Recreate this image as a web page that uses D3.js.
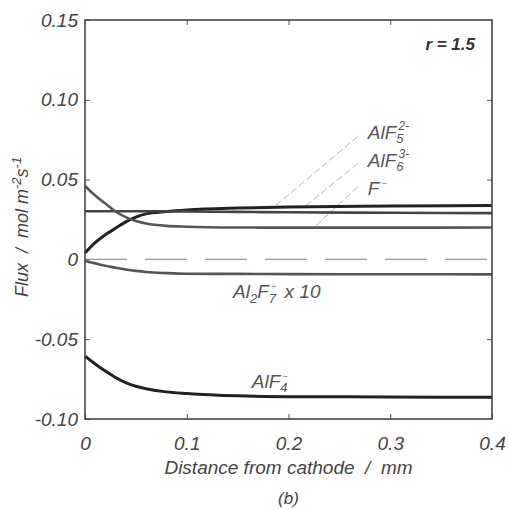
<!DOCTYPE html>
<html>
<head>
<meta charset="utf-8">
<script src="https://cdn.jsdelivr.net/npm/d3@7"></script>
<style>
  body { margin: 0; background: #fff; }
  text { font-family: "Liberation Sans", Arial, sans-serif; font-style: italic; white-space: pre; }
</style>
</head>
<body>
<script>
const WIDTH = 509, HEIGHT = 509;
const LEFT = 85, RIGHT = 492, TOP = 20, BOTTOM = 419;

// distance from cathode (mm)
const distance = [0, 0.01, 0.02, 0.03, 0.04, 0.05, 0.06, 0.08, 0.1, 0.15, 0.2, 0.3, 0.4];
// flux, mol m-2 s-1
const fluxAlF5 = [0.004, 0.0105, 0.0155, 0.0195, 0.0235, 0.0265, 0.0285, 0.0300, 0.0310, 0.0322, 0.0328, 0.0334, 0.0337];
const fluxAlF6 = [0.0302, 0.0302, 0.0302, 0.0302, 0.0302, 0.0302, 0.0302, 0.0301, 0.0300, 0.0298, 0.0295, 0.0292, 0.0290];
const fluxF = [0.046, 0.040, 0.035, 0.030, 0.0265, 0.024, 0.0225, 0.021, 0.0205, 0.0200, 0.0199, 0.0199, 0.0200];
const fluxAl2F7x10 = [-0.001, -0.0025, -0.004, -0.0052, -0.0063, -0.0072, -0.0079, -0.0086, -0.0090, -0.0091, -0.0092, -0.0093, -0.0094];
const fluxAlF4 = [-0.0606, -0.0655, -0.070, -0.074, -0.0772, -0.0795, -0.081, -0.083, -0.084, -0.0855, -0.086, -0.0862, -0.0864];

const xTicks = [0, 0.1, 0.2, 0.3, 0.4];
const yTicks = [-0.10, -0.05, 0, 0.05, 0.10, 0.15];
const yTickLabels = ["-0.10", "-0.05", "0", "0.05", "0.10", "0.15"];

const series = [
  {name: "AlF5", values: fluxAlF5, color: "#222", width: 3},
  {name: "AlF6", values: fluxAlF6, color: "#444", width: 2.6},
  {name: "F", values: fluxF, color: "#555", width: 2.6},
  {name: "Al2F7", values: fluxAl2F7x10, color: "#555", width: 2.6},
  {name: "AlF4", values: fluxAlF4, color: "#222", width: 3}
];

// leader lines: [label point, curve point] in data coords
const leaders = [
  [[0.268, 0.077], [0.187, 0.0335]],
  [[0.268, 0.060], [0.215, 0.0325]],
  [[0.268, 0.0455], [0.226, 0.0205]]
];

const x = d3.scaleLinear().domain([0, 0.4]).range([LEFT, RIGHT]);
const y = d3.scaleLinear().domain([-0.10, 0.15]).range([BOTTOM, TOP]);

const svg = d3.select("body").append("svg")
  .attr("width", WIDTH).attr("height", HEIGHT);

// zero dashed line
svg.append("line")
  .attr("x1", x(0)).attr("x2", x(0.4))
  .attr("y1", y(0)).attr("y2", y(0))
  .style("stroke", "#999").style("stroke-width", 1.2)
  .style("stroke-dasharray", "42,18");

// leaders
svg.append("g").selectAll("line").data(leaders).enter().append("line")
  .attr("x1", d => x(d[0][0])).attr("y1", d => y(d[0][1]))
  .attr("x2", d => x(d[1][0])).attr("y2", d => y(d[1][1]))
  .style("stroke", "#aaa").style("stroke-width", 0.9)
  .style("stroke-dasharray", "7,3");

// curves
const line = d3.line()
  .x((d, i) => x(distance[i]))
  .y(d => y(d))
  .curve(d3.curveMonotoneX);

svg.append("g").selectAll("path").data(series).enter().append("path")
  .attr("d", d => line(d.values))
  .style("fill", "none")
  .style("stroke", d => d.color)
  .style("stroke-width", d => d.width);

// axes: ticks inward on all sides
const tickLen = 5;
const xAxisB = d3.axisBottom(x).tickValues(xTicks).tickSizeInner(-tickLen).tickSizeOuter(0).tickFormat(d => d === 0 ? "0" : d3.format(".1f")(d));
const xAxisT = d3.axisTop(x).tickValues([0.1, 0.2, 0.3]).tickSizeInner(-tickLen).tickSizeOuter(0).tickFormat("");
const yAxisL = d3.axisLeft(y).tickValues(yTicks).tickSizeInner(-tickLen).tickSizeOuter(0).tickFormat((d, i) => yTickLabels[i]);
const yAxisR = d3.axisRight(y).tickValues([-0.05, 0.05, 0.10]).tickSizeInner(-tickLen).tickSizeOuter(0).tickFormat("");

function styleAxis(g) {
  g.select(".domain").remove();
  g.selectAll(".tick line").style("stroke", "#555").style("stroke-width", 1);
  g.selectAll(".tick text").style("fill", "#444").style("font-size", "19px")
    .style("font-family", "'Liberation Sans', Arial, sans-serif").style("font-style", "italic");
}
svg.append("g").attr("transform", `translate(0,${BOTTOM})`).call(xAxisB).call(styleAxis)
  .selectAll(".tick text").attr("y", 0).attr("dy", 0).attr("transform", "translate(0,31)");
svg.append("g").attr("transform", `translate(0,${TOP})`).call(xAxisT).call(styleAxis);
svg.append("g").attr("transform", `translate(${LEFT},0)`).call(yAxisL).call(styleAxis)
  .selectAll(".tick text").attr("x", -7);
svg.append("g").attr("transform", `translate(${RIGHT},0)`).call(yAxisR).call(styleAxis);

// frame
svg.append("rect")
  .attr("x", LEFT).attr("y", TOP)
  .attr("width", RIGHT - LEFT).attr("height", BOTTOM - TOP)
  .style("fill", "none").style("stroke", "#444").style("stroke-width", 1.6);

// labels
const lab = svg.append("g").style("fill", "#555").style("font-size", "19px");

function species(xp, yp, base, sub, sup) {
  const t = lab.append("text").attr("x", xp).attr("y", yp);
  t.append("tspan").text(base);
  const small = sup === "\u2212" ? "9px" : "12px";
  if (sub) {
    t.append("tspan").attr("dy", 4).style("font-size", "13px").text(sub);
    t.append("tspan").attr("dx", -5).attr("dy", -13).style("font-size", small).text(sup);
  } else {
    t.append("tspan").attr("dx", 2).attr("dy", -9).style("font-size", small).text(sup);
  }
  return t;
}

species(x(0.278), y(0.0752), "AlF", "5", "2-");
species(x(0.278), y(0.0579), "AlF", "6", "3-");
species(x(0.278), y(0.0404), "F", "", "\u2212");

// Al2F7- x 10
const t7 = lab.append("text").attr("x", x(0.1455)).attr("y", y(-0.0242));
t7.append("tspan").text("Al");
t7.append("tspan").attr("dy", 5).style("font-size", "13px").text("2");
t7.append("tspan").attr("dy", -5).text("F");
t7.append("tspan").attr("dy", 5).style("font-size", "13px").text("7");
t7.append("tspan").attr("dx", -5).attr("dy", -14).style("font-size", "9px").text("\u2212");
t7.append("tspan").attr("dx", 3).attr("dy", 9).text(" x 10");

species(x(0.164), y(-0.0806), "AlF", "4", "\u2212");

// r = 1.5
svg.append("text").attr("x", 475).attr("y", 50)
  .attr("text-anchor", "end")
  .style("font-size", "17px").style("font-weight", "bold").style("fill", "#333")
  .text("r = 1.5");

// axis titles
const yt = svg.append("text")
  .attr("transform", `translate(28,297) rotate(-90)`)
  .style("font-size", "18px").style("fill", "#444");
yt.append("tspan").text("Flux  /  mol m");
yt.append("tspan").attr("dy", -7).style("font-size", "13px").text("-2");
yt.append("tspan").attr("dy", 7).text("s");
yt.append("tspan").attr("dy", -7).style("font-size", "13px").text("-1");

svg.append("text").attr("x", x(0.2)).attr("y", 474)
  .attr("text-anchor", "middle")
  .style("font-size", "19px").style("fill", "#444")
  .text("Distance from cathode  /  mm");

svg.append("text").attr("x", x(0.2)).attr("y", 504)
  .attr("text-anchor", "middle")
  .style("font-size", "17px").style("fill", "#444")
  .text("(b)");
</script>
</body>
</html>
